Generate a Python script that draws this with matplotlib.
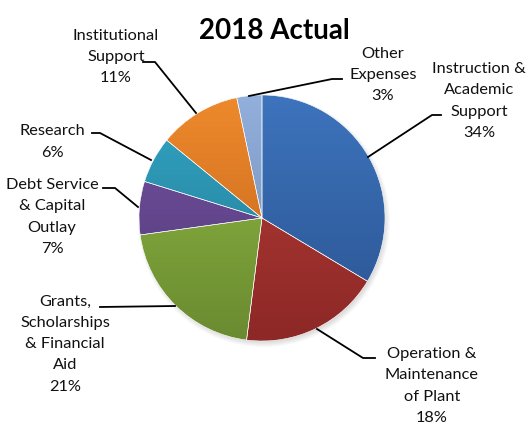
import numpy as np
import matplotlib
matplotlib.use("Agg")
from matplotlib import pyplot as plt
from matplotlib.patches import Circle

# slice data, clockwise from 12 o'clock
names = ["Instruction &\nAcademic\nSupport", "Operation &\nMaintenance\nof Plant",
         "Grants,\nScholarships\n& Financial\nAid", "Debt Service\n& Capital\nOutlay",
         "Research", "Institutional\nSupport", "Other\nExpenses"]
values = [33.6, 18.4, 20.8, 7.0, 6.1, 10.8, 3.3]
pct_labels = ["34%", "18%", "21%", "7%", "6%", "11%", "3%"]
top_colors = ["#3d74bd", "#b73d38", "#91bc45", "#7654a6", "#33a6c4", "#ee8a2c", "#93b0dd"]
bottom_colors = ["#2a5390", "#8c2826", "#6a8a30", "#4f3873", "#207590", "#c0601b", "#6a84b0"]

# label placement (pixel coords, y down): text centre, leader line points
label_pos = [(479, 101), (432, 386), (65, 344), (52, 217), (52, 142), (116, 57), (383, 75)]
leaders = [
    [(368, 157), (432, 115), (441, 115)],
    [(317, 329), (363, 358), (375, 358)],
    [(175, 306), (100, 307)],
    [(138, 207), (115, 188), (103, 188)],
    [(151, 160), (100, 133), (92, 133)],
    [(196, 113), (155, 62), (143, 62)],
    [(249, 96), (332, 79), (342, 79)],
]

W, H = 531, 426
cx, cy, r = 262, H - 218, 123

fig = plt.figure(figsize=(W / 100, H / 100), dpi=100)
ax = fig.add_axes([0, 0, 1, 1])

# soft shadow
for k in range(6):
    ax.add_patch(Circle((cx + 2, cy - 3), r + 3 - k, color="black", alpha=0.025, lw=0, zorder=0))

wedges, _ = ax.pie(values, center=(cx, cy), radius=r, startangle=90, counterclock=False,
                   frame=True, wedgeprops=dict(edgecolor="white", linewidth=0.4))

# vertical gradient per slice, clipped to the wedge
t = np.linspace(0, 1, 256)[:, None]
for w, c1, c2 in zip(wedges, top_colors, bottom_colors):
    a = np.array(matplotlib.colors.to_rgb(c1))
    b = np.array(matplotlib.colors.to_rgb(c2))
    img = (a * (1 - t) + b * t)[:, None, :]
    im = ax.imshow(img, extent=(cx - r, cx + r, cy - r, cy + r), origin="upper",
                   aspect="auto", zorder=1, interpolation="bilinear")
    im.set_clip_path(w)
    w.set_facecolor("none")
    w.set_zorder(2)

for name, pct, (lx, ly), pts in zip(names, pct_labels, label_pos, leaders):
    ax.text(lx, H - ly, name + "\n" + pct, ha="center", va="center", fontsize=11.8,
            family="Lato", linespacing=1.66, color="#111111")
    xs = [p[0] for p in pts]
    ys = [H - p[1] for p in pts]
    ax.plot(xs, ys, color="black", lw=1.3, zorder=3)

ax.text(274, H - 31, "2018 Actual", ha="center", va="center", fontsize=20,
        fontweight="bold", family="Lato")

ax.set_xlim(0, W)
ax.set_ylim(0, H)
ax.set_aspect("auto")
ax.axis("off")

fig.savefig("out.png", dpi=100, facecolor="white")
